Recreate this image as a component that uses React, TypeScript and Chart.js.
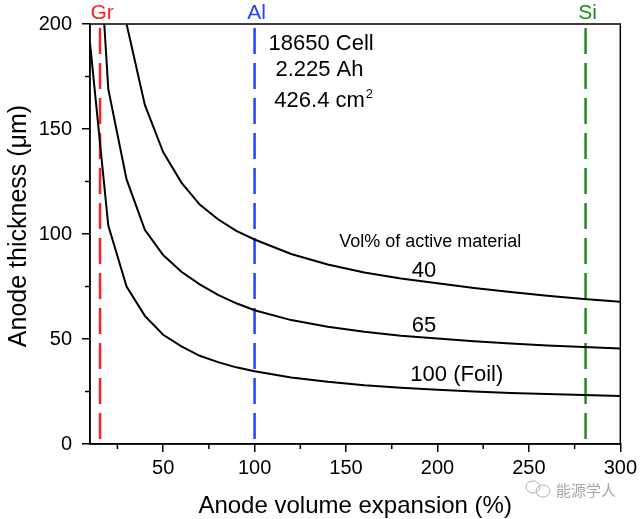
import React, { useEffect, useRef } from 'react';
import { Chart, registerables } from 'chart.js';

Chart.register(...registerables);

// ---- data ----
const xValues = [10, 20, 30, 40, 50, 60, 70, 80, 90, 100, 120, 140, 160, 180, 200, 220, 240, 260, 280, 300];
const vol40 = [500, 275, 200, 161.5, 139, 124.5, 114, 107, 101.5, 97.4, 90.5, 85.5, 81.7, 78.8, 76.5, 74.3, 72.4, 70.6, 69.1, 67.7];
const vol65 = [310, 169, 126, 102, 90, 82, 76, 71, 67, 63.7, 59, 55.8, 53.5, 51.6, 50.2, 48.9, 47.8, 46.9, 46.2, 45.5];
const vol100 = [191, 104, 75, 61, 52, 46.5, 42, 39, 36.5, 34.6, 31.7, 29.6, 28, 26.8, 25.8, 25, 24.3, 23.8, 23.3, 22.9];
const curveLabels = ['40', '65', '100 (Foil)'];
const curveLabelAnchors = [[192.6, 79.4], [192.6, 53.2], [210.6, 29.9]];

const materials = ['Gr', 'Al', 'Si'];
const materialExpansion = [15.5, 100, 281];
const materialColors = ['#ff1f1f', '#1f44ff', '#1e8c1e'];

const xTicks = [50, 100, 150, 200, 250, 300];
const xMinorTicks = [25, 75, 125, 175, 225, 275];
const yTicks = [0, 50, 100, 150, 200];
const yMinorTicks = [25, 75, 125, 175];

const xTitle = 'Anode volume expansion (%)';
const yTitle = 'Anode thickness (\u03bcm)';
const cellInfo = ['18650 Cell', '2.225 Ah', '426.4 cm'];
const cellInfoAnchors = [[107.6, 187.6], [111.4, 175.2], [110.8, 160.5]];
const volLabel = 'Vol% of active material';
const volLabelAnchor = [146.3, 93.7];

const FONT = '"Liberation Sans", Arial, sans-serif';

export default function App() {
  const ref = useRef<HTMLCanvasElement | null>(null);

  useEffect(() => {
    if (!ref.current) return;

    const curveSet = (data: number[]) => ({
      data: xValues.map((x, i) => ({ x, y: data[i] })),
      borderColor: '#000',
      borderWidth: 2,
      pointRadius: 0,
      tension: 0,
      fill: false,
    });

    const lineSets = materials.map((m, i) => ({
      data: [
        { x: materialExpansion[i], y: 200 },
        { x: materialExpansion[i], y: 0 },
      ],
      borderColor: materialColors[i],
      borderWidth: 2.5,
      borderDash: [26, 9],
      borderDashOffset: 31,
      pointRadius: 0,
      fill: false,
    }));

    const decor = {
      id: 'decor',
      afterDraw(chart: any) {
        const { ctx, chartArea: a, scales } = chart;
        const xs = scales.x;
        const ys = scales.y;
        ctx.save();
        // frame
        ctx.strokeStyle = '#000';
        ctx.lineWidth = 1.5;
        ctx.strokeRect(a.left, a.top, a.right - a.left, a.bottom - a.top);
        // minor ticks
        ctx.beginPath();
        xMinorTicks.forEach((v) => {
          const px = xs.getPixelForValue(v);
          ctx.moveTo(px, a.bottom);
          ctx.lineTo(px, a.bottom + 5);
        });
        yMinorTicks.forEach((v) => {
          const py = ys.getPixelForValue(v);
          ctx.moveTo(a.left, py);
          ctx.lineTo(a.left - 5, py);
        });
        ctx.stroke();

        // axis titles
        ctx.fillStyle = '#000';
        ctx.font = `24px ${FONT}`;
        ctx.textAlign = 'center';
        ctx.textBaseline = 'alphabetic';
        ctx.fillText(xTitle, (a.left + a.right) / 2, 513);
        ctx.save();
        ctx.translate(26, 226);
        ctx.rotate(-Math.PI / 2);
        ctx.font = `25px ${FONT}`;
        ctx.fillText(yTitle, 0, 0);
        ctx.restore();

        // material labels above plot
        ctx.font = `21px ${FONT}`;
        ctx.textAlign = 'center';
        ctx.textBaseline = 'alphabetic';
        materials.forEach((m, i) => {
          ctx.fillStyle = materialColors[i];
          ctx.fillText(m, xs.getPixelForValue(materialExpansion[i]) + 2, a.top - 5);
        });

        // cell info
        ctx.fillStyle = '#000';
        ctx.textAlign = 'left';
        cellInfo.forEach((t, i) => {
          const px = xs.getPixelForValue(cellInfoAnchors[i][0]);
          const py = ys.getPixelForValue(cellInfoAnchors[i][1]);
          ctx.font = `22px ${FONT}`;
          ctx.fillText(t, px, py);
          if (i === 2) {
            const w = ctx.measureText(t).width;
            ctx.font = `13px ${FONT}`;
            ctx.fillText('2', px + w + 1, py - 9);
          }
        });

        // Vol% label
        ctx.font = `18px ${FONT}`;
        ctx.fillText(volLabel, xs.getPixelForValue(volLabelAnchor[0]), ys.getPixelForValue(volLabelAnchor[1]));

        // curve labels
        ctx.font = `22px ${FONT}`;
        ctx.textAlign = 'center';
        curveLabels.forEach((t, i) => {
          ctx.fillText(t, xs.getPixelForValue(curveLabelAnchors[i][0]), ys.getPixelForValue(curveLabelAnchors[i][1]));
        });

        // watermark
        ctx.strokeStyle = '#b0b0b0';
        ctx.lineWidth = 1;
        ctx.beginPath();
        ctx.ellipse(533, 487, 7, 6, 0, 0, Math.PI * 2);
        ctx.stroke();
        ctx.beginPath();
        ctx.ellipse(543, 491, 7, 6, 0, 0, Math.PI * 2);
        ctx.stroke();
        ctx.fillStyle = '#a8a8a8';
        ctx.font = `15px "Noto Sans CJK SC", sans-serif`;
        ctx.textAlign = 'left';
        ctx.textBaseline = 'middle';
        ctx.fillText('能源学人', 556, 490);
        ctx.restore();
      },
    };

    const chart = new Chart(ref.current, {
      type: 'line',
      data: {
        datasets: [curveSet(vol40), curveSet(vol65), curveSet(vol100), ...lineSets] as any,
      },
      options: {
        animation: false,
        responsive: false,
        maintainAspectRatio: false,
        layout: { padding: { left: 0, top: 24, right: 19, bottom: 0 } },
        plugins: { legend: { display: false }, tooltip: { enabled: false } },
        scales: {
          x: {
            type: 'linear',
            min: 10,
            max: 300,
            afterBuildTicks: (s: any) => {
              s.ticks = xTicks.map((v) => ({ value: v }));
            },
            afterFit: (s: any) => {
              s.height = 75;
            },
            ticks: { font: { family: FONT, size: 20 }, color: '#000', padding: 4, maxRotation: 0, autoSkip: false },
            grid: { drawOnChartArea: false, drawTicks: true, tickLength: 8, color: '#000', lineWidth: 1.5 },
            border: { display: true, color: '#000', width: 1.5 },
            title: { display: false },
          },
          y: {
            type: 'linear',
            min: 0,
            max: 200,
            afterBuildTicks: (s: any) => {
              s.ticks = yTicks.map((v) => ({ value: v }));
            },
            afterFit: (s: any) => {
              s.width = 90;
            },
            ticks: { font: { family: FONT, size: 20 }, color: '#000', padding: 10, autoSkip: false },
            grid: { drawOnChartArea: false, drawTicks: true, tickLength: 8, color: '#000', lineWidth: 1.5 },
            border: { display: true, color: '#000', width: 1.5 },
            title: { display: false },
          },
        },
      } as any,
      plugins: [decor],
    });

    return () => chart.destroy();
  }, []);

  return (
    <div style={{ position: 'fixed', left: 0, top: 0, width: 641, height: 519, background: '#fff' }}>
      <canvas ref={ref} width={641} height={519} style={{ display: 'block', width: 641, height: 519 }} />
    </div>
  );
}
